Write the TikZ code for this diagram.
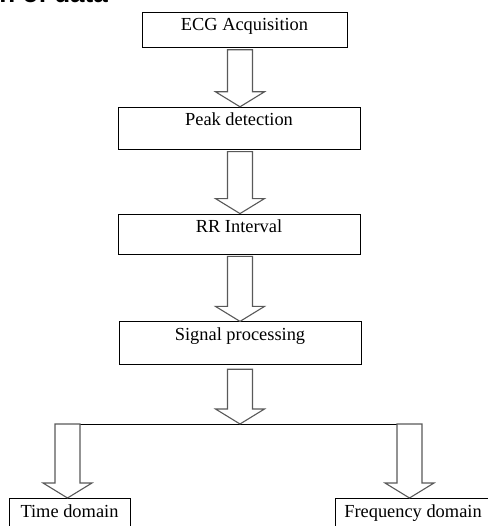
\documentclass[tikz,border=0pt]{standalone}
\usepackage{fontspec}
\setmainfont{Liberation Serif}
\newfontfamily\headfont{Liberation Sans}
\usetikzlibrary{positioning,calc}

% hollow block arrow: #1 = top of shaft, #2 = tip
\newcommand{\hollowarrow}[2]{%
  \draw[hollow] ($(#1)+(-12.5,0)$) -- ($(#2)+(-12.5,-15)$) -- ($(#2)+(-24.5,-15)$)
    -- (#2) -- ($(#2)+(24.5,-15)$) -- ($(#2)+(12.5,-15)$) -- ($(#1)+(12.5,0)$) -- cycle;}

\begin{document}
\begin{tikzpicture}[
  x=1pt, y=-1pt,
  font=\fontsize{18.4}{22}\selectfont,
  stepbox/.style={rectangle, draw=black, line width=0.8pt, fill=white, inner sep=0pt,
                  minimum width=242pt, text height=19pt, anchor=north},
  hollow/.style={draw=black!65, line width=1.1pt, fill=white, line join=miter},
  branch/.style={draw=black, line width=0.9pt},
]
\useasboundingbox (0,0) rectangle (487,526);
% cut-off heading
\node[font=\headfont\bfseries\fontsize{26}{30}\selectfont, anchor=base east, inner sep=0pt] (head) at (108,3) {n of data};
% main vertical chain
\node[stepbox, minimum width=205pt, text height=18pt, text depth=17pt] (ecg) at (244.5,12) {ECG Acquisition};
\node[stepbox, text height=18pt, text depth=24pt, below=59pt of ecg, xshift=-5.5pt] (peak) {Peak detection};
\node[stepbox, text depth=21pt, below=64pt of peak] (rr) {RR Interval};
\node[stepbox, text depth=24pt, below=67pt of rr, xshift=1pt] (sig) {Signal processing};
% the two domains
\node[stepbox, minimum width=121pt, text depth=30pt] (time) at (69.5,498) {Time domain};
\node[stepbox, minimum width=156pt, text depth=30pt] (freq) at (413,498) {Frequency domain};
% connectors
\foreach \a/\b in {ecg/peak, peak/rr, rr/sig}{
  \coordinate (top) at ($(\a.south -| 240,0)+(0,2)$);
  \coordinate (tip) at (\b.north -| top);
  \hollowarrow{top}{tip}
}
\coordinate (sigtop) at ($(sig.south -| 240,0)+(0,4)$);
\coordinate (split) at (240,424);
\coordinate (tl) at (67.5,424);
\coordinate (tr) at (409.5,424);
\draw[branch] (tl) -- (tr);
\hollowarrow{sigtop}{split}
\coordinate (tltip) at (time.north -| tl);
\coordinate (trtip) at (freq.north -| tr);
\hollowarrow{tl}{tltip}
\hollowarrow{tr}{trtip}
\end{tikzpicture}
\end{document}
